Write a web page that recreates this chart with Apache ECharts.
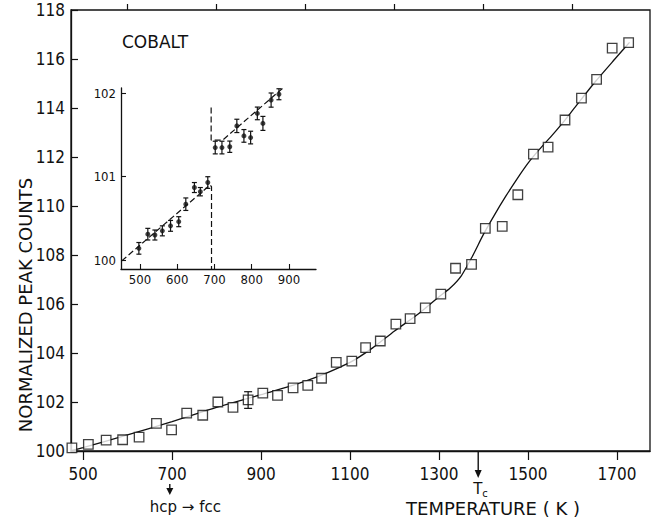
<!DOCTYPE html>
<html>
<head>
<meta charset="utf-8">
<script src="https://cdn.jsdelivr.net/npm/echarts@6/dist/echarts.min.js"></script>
<style>
  html, body { margin: 0; padding: 0; background: #fff; }
  #chart { width: 653px; height: 520px; }
</style>
</head>
<body>
<div id="chart"></div>
<script>
// main panel: measured points (open squares)
const mainTemps = [475, 512, 552, 589, 626, 665, 699, 733, 769, 803, 837, 871, 904, 937, 972, 1005, 1036, 1069, 1104, 1135, 1168, 1203, 1235, 1269, 1304, 1337, 1373, 1404, 1442, 1477, 1512, 1545, 1583, 1620, 1654, 1689, 1726];
const mainCounts = [100.13, 100.27, 100.44, 100.46, 100.57, 101.13, 100.86, 101.55, 101.46, 102.0, 101.78, 102.09, 102.36, 102.27, 102.58, 102.68, 102.97, 103.62, 103.67, 104.22, 104.49, 105.18, 105.40, 105.84, 106.40, 107.46, 107.62, 109.09, 109.17, 110.46, 112.12, 112.40, 113.51, 114.40, 115.17, 116.44, 116.67];

// the one error bar drawn in the main panel
const errTemps = [871];
const errLow = [101.74];
const errHigh = [102.42];

// solid fitted curve
const fitTemps = [473, 500, 600, 700, 800, 900, 1000, 1100, 1150, 1200, 1250, 1300, 1325, 1350, 1375, 1400, 1425, 1450, 1475, 1500, 1525, 1550, 1575, 1600, 1650, 1700, 1728];
const fitCounts = [100.02, 100.14, 100.66, 101.2, 101.78, 102.3, 102.85, 103.62, 104.2, 104.9, 105.55, 106.3, 106.65, 107.15, 107.95, 108.85, 109.65, 110.4, 111.1, 111.75, 112.3, 112.8, 113.33, 113.9, 115.05, 116.1, 116.68];

// inset: low-temperature (hcp) branch
const hcpTemps = [497, 521, 540, 560, 582, 604, 623, 646, 662, 682];
const hcpCounts = [100.14, 100.31, 100.30, 100.35, 100.41, 100.46, 100.67, 100.87, 100.82, 100.93];
const hcpErr = [0.07, 0.07, 0.06, 0.06, 0.065, 0.06, 0.075, 0.06, 0.05, 0.07];

// inset: fcc branch
const fccTemps = [702, 720, 741, 760, 779, 797, 815, 830, 852, 873];
const fccCounts = [101.35, 101.35, 101.36, 101.61, 101.49, 101.47, 101.76, 101.64, 101.92, 101.99];
const fccErr = [0.076, 0.076, 0.068, 0.08, 0.076, 0.076, 0.076, 0.084, 0.085, 0.066];

// inset dashed guide lines
const hcpLineTemps = [451, 688, 692, 692];
const hcpLineCounts = [99.99, 100.90, 100.88, 99.892];
const fccLineTemps = [691, 691, 722, 898];
const fccLineCounts = [101.83, 101.44, 101.44, 102.12];

// axis ticks / labels
const mainLabelTemps = [500, 700, 900, 1100, 1300, 1500, 1700];
const mainMinorTemps = [600, 800, 1000, 1200, 1400, 1600];
const insetTemps = [500, 600, 700, 800, 900];
const insetCountTicks = [100, 101, 102];

const T_TRANSITION = 695;
const T_CURIE = 1388;

const zip = (a, b) => a.map((v, i) => [v, b[i]]);
const plain = v => String(Math.round(v));
const font = "'Liberation Sans Narrow', 'DejaVu Sans Condensed', sans-serif";
const wideFont = "'DejaVu Sans', sans-serif";
const ink = '#111';

function errorBars(capHalf) {
  return function (params, api) {
    const x = api.value(0);
    const top = api.coord([x, api.value(2)]);
    const bot = api.coord([x, api.value(1)]);
    const style = { stroke: ink, lineWidth: 1.2, fill: null };
    return {
      type: 'group',
      children: [
        { type: 'line', shape: { x1: top[0], y1: top[1], x2: bot[0], y2: bot[1] }, style },
        { type: 'line', shape: { x1: top[0] - capHalf, y1: top[1], x2: top[0] + capHalf, y2: top[1] }, style },
        { type: 'line', shape: { x1: bot[0] - capHalf, y1: bot[1], x2: bot[0] + capHalf, y2: bot[1] }, style }
      ]
    };
  };
}

const chart = echarts.init(document.getElementById('chart'), null, { renderer: 'svg' });

const option = {
  animation: false,
  backgroundColor: '#fff',
  grid: [
    { left: 71, right: 3, top: 10, bottom: 69, show: true, borderColor: ink, borderWidth: 1.3, backgroundColor: 'transparent' },
    { left: 121, top: 88, width: 195, height: 181 }
  ],
  xAxis: [
    {
      type: 'value', gridIndex: 0, min: 473, max: 1774,
      axisLine: { lineStyle: { color: ink, width: 1.3 } },
      axisTick: { inside: false, length: 9, customValues: mainLabelTemps, lineStyle: { color: ink, width: 1.2 } },
      axisLabel: { customValues: mainLabelTemps, formatter: plain, margin: 14, color: ink, fontSize: 17, fontFamily: font },
      splitLine: { show: false }
    },
    {
      type: 'value', gridIndex: 0, min: 473, max: 1774,
      axisLine: { show: false },
      axisTick: { inside: false, length: 6, customValues: mainMinorTemps, lineStyle: { color: ink, width: 1.2 } },
      axisLabel: { show: false },
      splitLine: { show: false }
    },
    {
      type: 'value', gridIndex: 1, min: 449, max: 972.5,
      axisLine: { lineStyle: { color: ink, width: 1.3 } },
      axisTick: { inside: true, length: 5, customValues: insetTemps, lineStyle: { color: ink, width: 1.1 } },
      axisLabel: { customValues: insetTemps, formatter: plain, margin: 4, color: ink, fontSize: 13, fontFamily: font },
      splitLine: { show: false }
    }
  ],
  yAxis: [
    {
      type: 'value', gridIndex: 0, min: 100, max: 118, interval: 2,
      axisLine: { show: true, lineStyle: { color: ink, width: 1.3 } },
      axisTick: { show: true, inside: true, length: 7, lineStyle: { color: ink, width: 1.2 } },
      axisLabel: { formatter: plain, margin: 6, color: ink, fontSize: 17, fontFamily: font },
      splitLine: { show: false }
    },
    {
      type: 'value', gridIndex: 1, min: 99.892, max: 102.065,
      axisLine: { show: true, lineStyle: { color: ink, width: 1.3 } },
      axisTick: { show: true, inside: true, length: 5, customValues: insetCountTicks, lineStyle: { color: ink, width: 1.1 } },
      axisLabel: { customValues: insetCountTicks, formatter: plain, margin: 5, color: ink, fontSize: 13, fontFamily: font },
      splitLine: { show: false }
    }
  ],
  series: [
    {
      type: 'line', xAxisIndex: 0, yAxisIndex: 0, data: zip(fitTemps, fitCounts),
      smooth: 0.25, showSymbol: false, symbol: 'none',
      lineStyle: { color: ink, width: 1.3 }, z: 2
    },
    {
      type: 'scatter', xAxisIndex: 0, yAxisIndex: 0, data: zip(mainTemps, mainCounts),
      symbol: 'rect', symbolSize: 9.5,
      itemStyle: { color: '#fff', borderColor: ink, borderWidth: 1.3 }, z: 3
    },
    {
      type: 'custom', xAxisIndex: 0, yAxisIndex: 0,
      data: errTemps.map((t, i) => [t, errLow[i], errHigh[i]]),
      encode: { x: 0, y: [1, 2] },
      renderItem: errorBars(4), z: 4
    },
    {
      type: 'line', xAxisIndex: 2, yAxisIndex: 1, data: zip(hcpLineTemps, hcpLineCounts),
      symbol: 'none', lineStyle: { color: ink, width: 1.2, type: [6, 3] }
    },
    {
      type: 'line', xAxisIndex: 2, yAxisIndex: 1, data: zip(fccLineTemps, fccLineCounts),
      symbol: 'none', lineStyle: { color: ink, width: 1.2, type: [6, 3] }
    },
    {
      type: 'custom', xAxisIndex: 2, yAxisIndex: 1,
      data: hcpTemps.map((t, i) => [t, hcpCounts[i] - hcpErr[i], hcpCounts[i] + hcpErr[i]])
        .concat(fccTemps.map((t, i) => [t, fccCounts[i] - fccErr[i], fccCounts[i] + fccErr[i]])),
      encode: { x: 0, y: [1, 2] },
      renderItem: errorBars(2.5)
    },
    {
      type: 'scatter', xAxisIndex: 2, yAxisIndex: 1,
      data: zip(hcpTemps, hcpCounts).concat(zip(fccTemps, fccCounts)),
      symbol: 'circle', symbolSize: 5, itemStyle: { color: ink }
    }
  ]
};

chart.setOption(option);

// annotations: arrows placed at the transition temperatures through the x scale
const xHcp = chart.convertToPixel({ xAxisIndex: 0 }, T_TRANSITION);
const xCurie = chart.convertToPixel({ xAxisIndex: 0 }, T_CURIE);
const axisY = chart.convertToPixel({ yAxisIndex: 0 }, 100);

chart.setOption({
  graphic: [
    {
      type: 'text', left: 122, top: 33,
      style: { text: 'COBALT', fill: ink, fontSize: 17, fontFamily: wideFont }
    },
    {
      type: 'text', x: 25, y: 305, rotation: Math.PI / 2,
      style: { text: 'NORMALIZED PEAK COUNTS', fill: ink, fontSize: 18, fontFamily: wideFont, align: 'center', verticalAlign: 'middle' }
    },
    {
      type: 'text', x: 493, y: 508,
      style: { text: 'TEMPERATURE ( K )', fill: ink, fontSize: 18, fontFamily: wideFont, align: 'center', verticalAlign: 'middle' }
    },
    {
      type: 'line', shape: { x1: xHcp, y1: axisY + 33, x2: xHcp, y2: axisY + 38 },
      style: { stroke: ink, lineWidth: 1.4 }
    },
    {
      type: 'polygon', shape: { points: [[xHcp - 3.5, axisY + 37], [xHcp + 3.5, axisY + 37], [xHcp, axisY + 44]] },
      style: { fill: ink }
    },
    {
      type: 'text', x: xHcp - 20, y: axisY + 56,
      style: { text: 'hcp → fcc', fill: ink, fontSize: 15, fontFamily: wideFont, align: 'left', verticalAlign: 'middle' }
    },
    {
      type: 'line', shape: { x1: xCurie, y1: axisY, x2: xCurie, y2: axisY + 20 },
      style: { stroke: ink, lineWidth: 1.4 }
    },
    {
      type: 'polygon', shape: { points: [[xCurie - 3.5, axisY + 19], [xCurie + 3.5, axisY + 19], [xCurie, axisY + 27]] },
      style: { fill: ink }
    },
    {
      type: 'text', x: xCurie - 5, y: axisY + 29,
      style: {
        text: '{t|T}{s|c}', fill: ink,
        rich: {
          t: { fontSize: 15, fontFamily: wideFont, fill: ink },
          s: { fontSize: 10, fontFamily: wideFont, fill: ink, padding: [8, 0, 0, 0] }
        }
      }
    }
  ]
});
</script>
</body>
</html>
